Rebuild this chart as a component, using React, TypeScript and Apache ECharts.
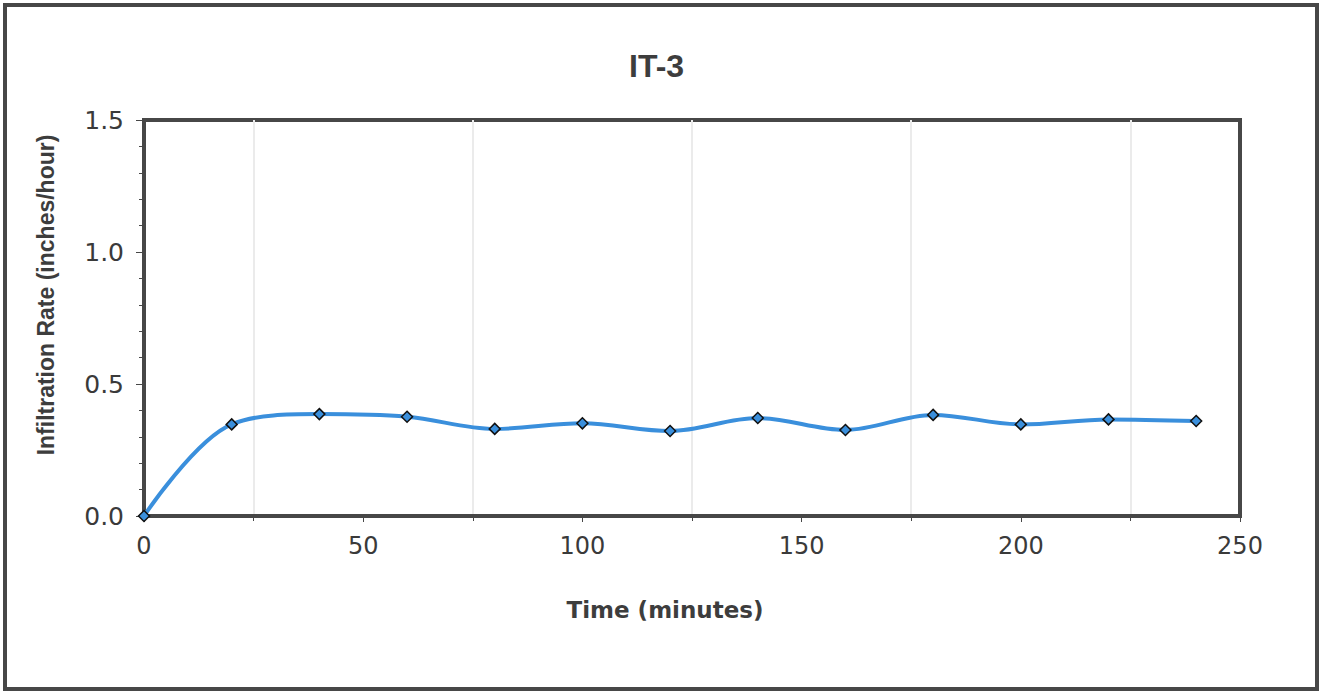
import React, { useEffect, useRef } from "react";
import * as echarts from "echarts";

const titleText = "IT-3";
const xAxisName = "Time (minutes)";
const yAxisName = "Infiltration Rate (inches/hour)";
const timeMinutes = [0, 20, 40, 60, 80, 100, 120, 140, 160, 180, 200, 220, 240];
const infiltrationRate = [0, 0.347, 0.386, 0.376, 0.33, 0.351, 0.322, 0.371, 0.326, 0.383, 0.347, 0.366, 0.36];

export default function App() {
  const ref = useRef<HTMLDivElement>(null);
  useEffect(() => {
    if (!ref.current) return;
    const chart = echarts.init(ref.current, null, { renderer: "svg" });
    const dark = "#474747";
    const data = timeMinutes.map((t, i) => [t, infiltrationRate[i]]);
    chart.setOption({
      animation: false,
      backgroundColor: "#ffffff",
      title: {
        text: titleText,
        left: 624,
        top: 45,
        textStyle: { fontFamily: "Liberation Sans", fontWeight: "bold", fontSize: 32, color: "#3d3d3d" },
      },
      graphic: [
        {
          type: "rect",
          shape: { x: 5, y: 5, width: 1312, height: 684 },
          style: { fill: "none", stroke: dark, lineWidth: 4 },
        },
        {
          type: "text",
          x: 665,
          y: 610,
          style: {
            text: xAxisName,
            fontFamily: "DejaVu Sans",
            fontWeight: "bold",
            fontSize: 23,
            fill: "#3d3d3d",
            align: "center",
            verticalAlign: "middle",
          },
        },
        {
          type: "text",
          x: 46,
          y: 295,
          rotation: Math.PI / 2,
          style: {
            text: yAxisName,
            fontFamily: "Liberation Sans",
            fontWeight: "bold",
            fontSize: 23,
            fill: "#3d3d3d",
            align: "center",
            verticalAlign: "middle",
          },
        },
      ],
      grid: {
        left: 144,
        top: 120,
        width: 1096,
        height: 396,
        show: true,
        borderColor: dark,
        borderWidth: 4,
        backgroundColor: "transparent",
      },
      xAxis: {
        type: "value",
        min: 0,
        max: 250,
        interval: 50,
        axisLine: { show: true, lineStyle: { color: dark, width: 4 } },
        axisTick: { show: true, length: 6, lineStyle: { color: dark, width: 1 } },
        minorTick: { show: true, splitNumber: 2, length: 5, lineStyle: { color: dark, width: 1 } },
        minorSplitLine: { show: true, lineStyle: { color: "#ebebeb", width: 2 } },
        splitLine: { show: false },
        axisLabel: { fontFamily: "DejaVu Sans", fontSize: 24, color: "#3a3a3a", margin: 18 },
      },
      yAxis: {
        type: "value",
        min: 0,
        max: 1.5,
        interval: 0.5,
        axisLine: { show: true, lineStyle: { color: dark, width: 4 } },
        axisTick: { show: true, length: 8, lineStyle: { color: dark, width: 1 } },
        minorTick: { show: true, splitNumber: 5, length: 5, lineStyle: { color: dark, width: 1 } },
        splitLine: { show: false },
        axisLabel: {
          fontFamily: "DejaVu Sans",
          fontSize: 25,
          color: "#3a3a3a",
          margin: 20,
          formatter: (v: number) => v.toFixed(1),
        },
      },
      series: [
        {
          type: "line",
          data,
          smooth: 0.35,
          symbol: "diamond",
          symbolSize: 11,
          lineStyle: { color: "#3a8fdc", width: 4 },
          itemStyle: { color: "#3a8fdc", borderColor: "#111111", borderWidth: 1.5 },
        },
      ],
    });
    return () => chart.dispose();
  }, []);
  return (
    <div
      ref={ref}
      style={{ position: "fixed", left: 0, top: 0, width: 1323, height: 698, background: "#fff" }}
    />
  );
}
